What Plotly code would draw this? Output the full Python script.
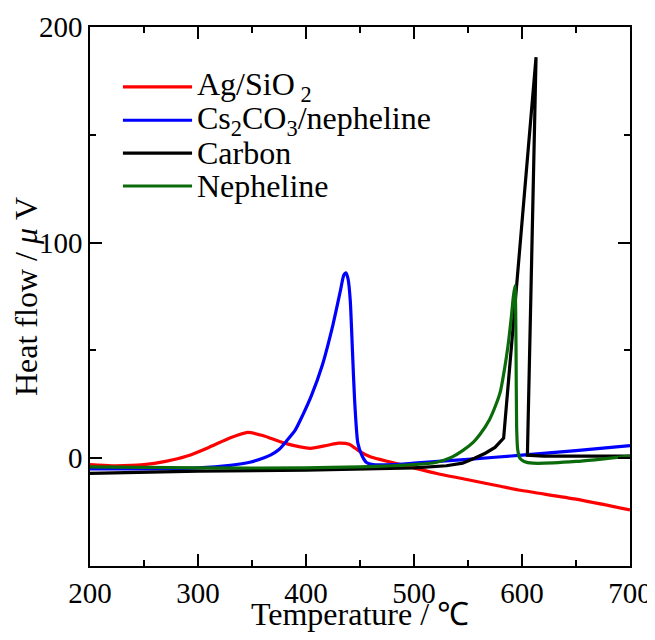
import plotly.graph_objects as go

# ---- data ----
ag_x = [200, 220, 250, 270, 290, 310, 330, 346, 360, 380, 404, 420, 430, 440, 450, 460, 480, 500, 520, 550, 580, 600, 650, 700]
ag_y = [-3, -3.5, -3, -1.5, 1, 5, 9.5, 12, 10.5, 7, 4.6, 6, 7, 6.5, 3, 0.5, -2, -4.5, -7, -10, -13, -15, -19, -24]

cs_x = [200, 250, 300, 330, 348, 360, 367, 375, 382, 390, 397, 405, 415, 425, 432, 435, 437, 439, 441, 443, 445, 448, 452, 456, 462, 480, 500, 550, 600, 650, 700]
cs_y = [-5, -5, -4.5, -3.3, -1.9, 0, 1.4, 4, 8, 13, 20, 29, 43, 62, 78, 85, 86, 83, 73, 50, 27, 7, 1, -2, -3, -3, -2.3, -0.5, 1.4, 3.5, 5.8]

c_x = [200, 300, 400, 450, 500, 530, 545, 556, 566, 575, 583, 613, 605, 620, 650, 700]
c_y = [-7, -6, -5.5, -5, -4.5, -3.5, -2.3, 0, 2.3, 5, 9.3, 186, 1.4, 1, 1, 1]

ne_x = [200, 300, 400, 450, 480, 500, 520, 535, 545, 555, 561, 570, 576, 580, 584, 587, 590, 592, 593.5, 594.5, 595, 596, 598, 602, 610, 650, 700]
ne_y = [-4, -4.5, -4.5, -4, -3.5, -3, -2, 0.5, 3.5, 7.5, 11, 18, 25, 31, 42, 52, 65, 75, 80, 50, 15, 4, 0, -1.5, -2.3, -1.5, 1]

names = ["Ag/SiO<sub> 2</sub>", "Cs<sub>2</sub>CO<sub>3</sub>/nepheline", "Carbon", "Nepheline"]
colors = ["#ff0000", "#0000ff", "#000000", "#0b6b0b"]
shapes = ["spline", "spline", "linear", "spline"]

x_ticks = [200, 300, 400, 500, 600, 700]
y_ticks = [0, 100, 200]

FONT = "Liberation Serif, Times New Roman, serif"

fig = go.Figure()
series = [(ag_x, ag_y), (cs_x, cs_y), (c_x, c_y), (ne_x, ne_y)]
for (xs, ys), nm, col, sh in zip(series, names, colors, shapes):
    fig.add_trace(go.Scatter(x=xs, y=ys, mode="lines", name=nm,
                             line=dict(color=col, width=3.2, shape=sh, smoothing=0.6),
                             showlegend=False))

# manual legend (long line samples as in the reference)
leg_y = [0.889, 0.827, 0.766, 0.705]
for i, (nm, col) in enumerate(zip(names, colors)):
    fig.add_shape(type="line", xref="paper", yref="paper",
                  x0=0.061, x1=0.189, y0=leg_y[i], y1=leg_y[i],
                  line=dict(color=col, width=3.2))
    fig.add_annotation(xref="paper", yref="paper", x=0.195, y=leg_y[i],
                       xanchor="left", yanchor="middle", showarrow=False,
                       text=nm, font=dict(family=FONT, size=32, color="black"))

axis_common = dict(
    showgrid=False, zeroline=False, showline=True, linecolor="black", linewidth=1.5,
    mirror="allticks", ticks="inside", ticklen=12, tickwidth=1.5, tickcolor="black",
    tickfont=dict(family=FONT, size=29, color="black"), automargin=False,
)

fig.update_xaxes(range=[200, 700], tickvals=x_ticks,
                 minor=dict(dtick=50, ticks="inside", ticklen=6, tickwidth=1.5, tickcolor="black"),
                 title=dict(text="Temperature / ℃", font=dict(family=FONT, size=32, color="black"), standoff=2),
                 **axis_common)
fig.update_yaxes(range=[-50, 200], tickvals=y_ticks,
                 minor=dict(dtick=50, ticks="inside", ticklen=6, tickwidth=1.5, tickcolor="black"),
                 title=dict(text="Heat flow / <i>μ</i> V", font=dict(family=FONT, size=32, color="black"), standoff=4),
                 **axis_common)

# page body has an 8px default margin: compensate so the plot area lands where the reference has it
fig.update_layout(width=647, height=624, margin=dict(l=82, r=25, t=19, b=66),
                  plot_bgcolor="white", paper_bgcolor="white", showlegend=False)

fig.write_html("out.html")
